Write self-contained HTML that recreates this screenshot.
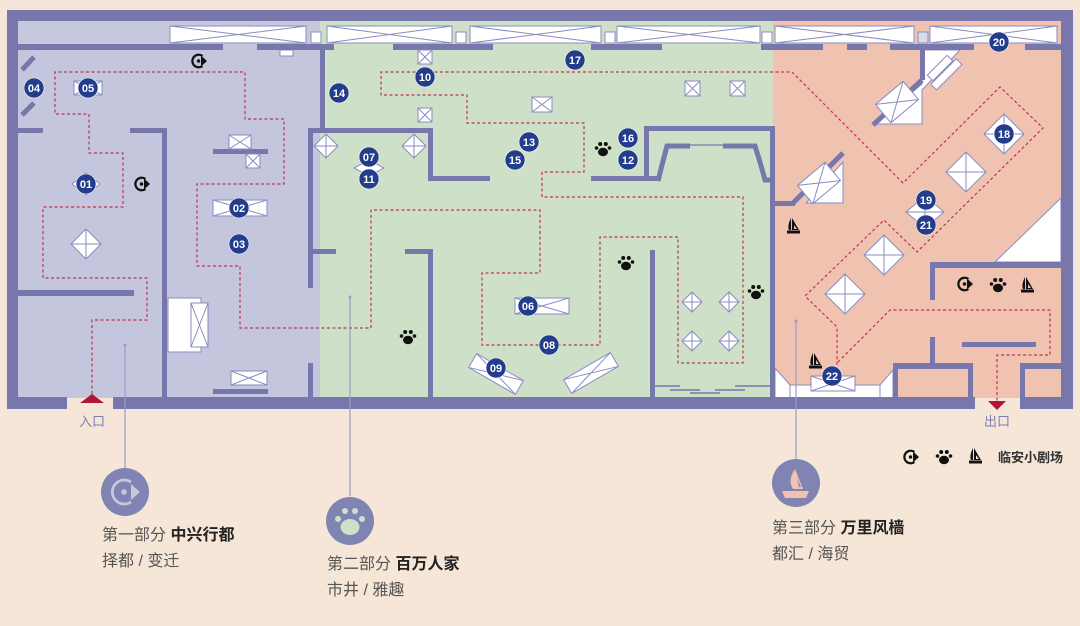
<!DOCTYPE html>
<html><head><meta charset="utf-8"><style>
html,body{margin:0;padding:0;background:#f6e6d7;}
svg{display:block}
text{font-family:"Liberation Sans","Noto Sans CJK SC",sans-serif;}
</style></head><body>
<svg width="1080" height="626" viewBox="0 0 1080 626" xmlns="http://www.w3.org/2000/svg">
<defs>
<g id="ico"><path d="M3.5,-5 A6.3,6.3 0 1 0 3.5,5" fill="none" stroke="#111" stroke-width="2.2"/><path d="M2,-5.5 L8,0 L2,5.5 Z" fill="#111"/><circle cx="-0.5" r="1.7" fill="#111"/></g>
<g id="paw" fill="#111"><ellipse cx="0" cy="3" rx="5" ry="4.2"/><circle cx="-6.5" cy="-1" r="1.8"/><circle cx="-2.8" cy="-5" r="2"/><circle cx="2.8" cy="-5" r="2"/><circle cx="6.5" cy="-1" r="1.8"/></g>
<g id="boat" fill="#111"><path d="M-1,-8 L-1,4 L6,4 Z M1,-1 L1,3 L4,3 Z" fill-rule="evenodd"/><path d="M-2,-8 C-5,-2 -5,2 -4,4 L-2,4 Z"/><rect x="-6" y="4.5" width="13" height="3"/></g>
</defs>

<rect x="18" y="21" width="302" height="377" fill="#c3c6dc"/>
<rect x="320" y="21" width="453" height="377" fill="#cfe0c8"/>
<rect x="773" y="21" width="288" height="377" fill="#f0c3b1"/>
<rect x="18" y="21" width="302" height="23" fill="#c6c9de"/>

<g stroke="#8a8cc0" stroke-width="1" fill="#fff">
<rect x="170" y="26" width="136" height="17"/><path d="M170,26 L306,43 M170,43 L306,26" fill="none"/>
<rect x="327" y="26" width="125" height="17"/><path d="M327,26 L452,43 M327,43 L452,26" fill="none"/>
<rect x="470" y="26" width="131" height="17"/><path d="M470,26 L601,43 M470,43 L601,26" fill="none"/>
<rect x="617" y="26" width="143" height="17"/><path d="M617,26 L760,43 M617,43 L760,26" fill="none"/>
<rect x="775" y="26" width="139" height="17"/><path d="M775,26 L914,43 M775,43 L914,26" fill="none"/>
<rect x="930" y="26" width="127" height="17"/><path d="M930,26 L1057,43 M930,43 L1057,26" fill="none"/>
<rect x="311" y="32" width="10" height="11"/><rect x="456" y="32" width="10" height="11"/>
<rect x="605" y="32" width="10" height="11"/><rect x="762" y="32" width="10" height="11"/>
<rect x="918" y="32" width="10" height="11" fill="#dcdbe8"/>
<rect x="280" y="50" width="13" height="6"/>
</g>

<g fill="#fff" stroke="#8a8cc0" stroke-width="1">
<rect x="168" y="298" width="33" height="54"/>
<polygon points="806,203 843,162 843,203"/>
<polygon points="875,124 922,84 922,50 960,50 922,90 922,124"/>
<polygon points="995,262 1061,198 1061,262"/>
<polygon points="775,368 790,385 790,398 775,398"/>
<polygon points="880,385 893,370 893,398 880,398"/>
<rect x="790" y="385" width="90" height="13"/>
</g>

<g fill="#7877ab">
<rect x="7" y="10" width="1066" height="11"/>
<rect x="7" y="10" width="11" height="399"/>
<rect x="1061" y="10" width="12" height="399"/>
<rect x="7" y="397" width="60" height="12"/>
<rect x="113" y="397" width="862" height="12"/>
<rect x="1020" y="397" width="53" height="12"/>
<rect x="18" y="44" width="205" height="6"/><rect x="257" y="44" width="77" height="6"/>
<rect x="393" y="44" width="100" height="6"/><rect x="591" y="44" width="71" height="6"/>
<rect x="761" y="44" width="62" height="6"/><rect x="847" y="44" width="20" height="6"/>
<rect x="890" y="44" width="84" height="6"/><rect x="1025" y="44" width="36" height="6"/>
<rect x="18" y="128" width="25" height="5"/><rect x="130" y="128" width="37" height="5"/>
<rect x="162" y="128" width="5" height="270"/>
<rect x="18" y="290" width="116" height="6"/>
<rect x="213" y="149" width="55" height="5"/><rect x="213" y="389" width="55" height="5"/>
<rect x="320" y="44" width="5" height="84"/>
<rect x="308" y="128" width="124" height="5"/>
<rect x="308" y="128" width="5" height="160"/><rect x="308" y="363" width="5" height="35"/>
<rect x="428" y="128" width="5" height="52"/><rect x="428" y="176" width="62" height="5"/>
<rect x="308" y="249" width="28" height="5"/><rect x="405" y="249" width="28" height="5"/>
<rect x="428" y="249" width="5" height="149"/>
<rect x="650" y="250" width="5" height="148"/>
<rect x="591" y="176" width="69" height="5"/>
<rect x="644" y="126" width="5" height="53"/>
<rect x="644" y="126" width="131" height="5"/>
<rect x="770" y="126" width="5" height="272"/>
<rect x="775" y="201" width="20" height="5"/>
<rect x="930" y="262" width="131" height="6"/>
<rect x="930" y="262" width="5" height="38"/>
<rect x="930" y="337" width="5" height="32"/>
<rect x="962" y="342" width="74" height="5"/>
<rect x="893" y="363" width="80" height="6"/><rect x="893" y="363" width="5" height="35"/><rect x="968" y="363" width="5" height="35"/>
<rect x="1020" y="363" width="41" height="6"/><rect x="1020" y="363" width="5" height="35"/>
<rect x="920" y="50" width="5" height="30"/>
</g>
<g stroke="#7877ab" fill="none">
<polyline points="658,181 662,165 667,146 690,146" stroke-width="5"/>
<line x1="690" y1="145" x2="723" y2="145" stroke-width="1.2"/>
<polyline points="723,146 755,146 760,162 765,180 772,180" stroke-width="5"/>
<line x1="793" y1="203" x2="843" y2="153" stroke-width="5"/>
<line x1="922" y1="80" x2="873" y2="125" stroke-width="5"/>
<line x1="22" y1="70" x2="34" y2="57" stroke-width="5"/>
<line x1="22" y1="115" x2="34" y2="103" stroke-width="5"/>
<g stroke-width="1.5"><line x1="655" y1="386" x2="680" y2="386"/><line x1="670" y1="390" x2="700" y2="390"/><line x1="690" y1="393" x2="720" y2="393"/><line x1="715" y1="390" x2="745" y2="390"/><line x1="735" y1="386" x2="770" y2="386"/></g>
</g>

<g fill="#fff" stroke="#8a8cc0" stroke-width="1">
<rect x="229" y="135" width="22" height="14"/><path d="M229,135 L251,149 M229,149 L251,135"/>
<rect x="246" y="154" width="14" height="14"/><path d="M246,154 L260,168 M246,168 L260,154"/>
<rect x="213" y="200" width="54" height="16"/><path d="M213,200 L267,216 M213,216 L267,200"/>
<rect x="231" y="371" width="36" height="14"/><path d="M231,371 L267,385 M231,385 L267,371"/>
<rect x="191" y="303" width="17" height="44"/><path d="M191,303 L208,347 M191,347 L208,303"/>
<rect x="74" y="81" width="28" height="14"/><path d="M74,81 L102,95 M74,95 L102,81"/>
<rect x="418" y="50" width="14" height="14"/><path d="M418,50 L432,64 M418,64 L432,50"/>
<rect x="418" y="108" width="14" height="14"/><path d="M418,108 L432,122 M418,122 L432,108"/>
<rect x="532" y="97" width="20" height="15"/><path d="M532,97 L552,112 M532,112 L552,97"/>
<rect x="685" y="81" width="15" height="15"/><path d="M685,81 L700,96 M685,96 L700,81"/>
<rect x="730" y="81" width="15" height="15"/><path d="M730,81 L745,96 M730,96 L745,81"/>
<rect x="515" y="298" width="54" height="16"/><path d="M515,298 L569,314 M515,314 L569,298"/>
<rect x="811" y="376" width="44" height="15"/><path d="M811,376 L855,391 M811,391 L855,376"/>
<g transform="translate(496,374) rotate(30)"><rect x="-27" y="-8" width="54" height="16"/><path d="M-27,-8 L27,8 M-27,8 L27,-8"/></g>
<g transform="translate(591,373) rotate(-30)"><rect x="-27" y="-8" width="54" height="16"/><path d="M-27,-8 L27,8 M-27,8 L27,-8"/></g>
<g transform="translate(819,183) rotate(-40)"><rect x="-18" y="-12" width="36" height="24"/><path d="M-18,-12 L18,12 M-18,12 L18,-12"/></g>
<g transform="translate(897,102) rotate(-40)"><rect x="-18" y="-12" width="36" height="24"/><path d="M-18,-12 L18,12 M-18,12 L18,-12"/></g>
<g transform="translate(940,68) rotate(-45)"><rect x="-14" y="-4" width="28" height="8"/><rect x="-18" y="5" width="36" height="8"/></g>
</g>
<g fill="#fff" stroke="#8a8cc0" stroke-width="1">
<g transform="translate(86,244)"><path d="M0,-15 L15,0 L0,15 L-15,0 Z M0,-15 V15 M-15,0 H15"/></g>
<g transform="translate(86,184)"><path d="M0,-11 L14,0 L0,11 L-14,0 Z"/></g>
<g transform="translate(326,146)"><path d="M0,-12 L12,0 L0,12 L-12,0 Z M0,-12 V12 M-12,0 H12"/></g>
<g transform="translate(414,146)"><path d="M0,-12 L12,0 L0,12 L-12,0 Z M0,-12 V12 M-12,0 H12"/></g>
<g transform="translate(369,168)"><path d="M0,-8 L15,0 L0,8 L-15,0 Z"/></g>
<g transform="translate(692,302)"><path d="M0,-10 L10,0 L0,10 L-10,0 Z M0,-10 V10 M-10,0 H10"/></g>
<g transform="translate(729,302)"><path d="M0,-10 L10,0 L0,10 L-10,0 Z M0,-10 V10 M-10,0 H10"/></g>
<g transform="translate(692,341)"><path d="M0,-10 L10,0 L0,10 L-10,0 Z M0,-10 V10 M-10,0 H10"/></g>
<g transform="translate(729,341)"><path d="M0,-10 L10,0 L0,10 L-10,0 Z M0,-10 V10 M-10,0 H10"/></g>
<g transform="translate(1004,134)"><path d="M0,-20 L20,0 L0,20 L-20,0 Z M0,-20 V20 M-20,0 H20"/></g>
<g transform="translate(966,172)"><path d="M0,-20 L20,0 L0,20 L-20,0 Z M0,-20 V20 M-20,0 H20"/></g>
<g transform="translate(925,212)"><path d="M0,-16 L19,0 L0,16 L-19,0 Z M0,-16 V16 M-19,0 H19"/></g>
<g transform="translate(884,255)"><path d="M0,-20 L20,0 L0,20 L-20,0 Z M0,-20 V20 M-20,0 H20"/></g>
<g transform="translate(845,294)"><path d="M0,-20 L20,0 L0,20 L-20,0 Z M0,-20 V20 M-20,0 H20"/></g>
</g>

<g fill="none" stroke="#c4304f" stroke-width="1.2" stroke-dasharray="3,2.5">
<polyline points="92,394 92,320 147,320 147,278 43,278 43,207 123,207 123,153 89,153 89,114 55,114 55,72 245,72 245,119 284,119 284,184 197,184 197,266 240,266 240,328 371,328 371,210 540,210 540,273 482,273 482,345 600,345 600,237 678,237 678,363 743,363 743,197 542,197 542,172 584,172 584,123 467,123 467,95 381,95 381,72 792,72 903,183 1000,87 1043,128 917,252 884,220 805,296 837,327 837,365"/>
<polyline points="838,362 890,310 1050,310 1050,355 997,355 997,402"/>
</g>
<polygon points="80,403 92,394 104,403" fill="#b0153b"/>
<polygon points="988,401 1006,401 997,410" fill="#b0153b"/>

<use href="#ico" x="199" y="61"/><use href="#ico" x="142" y="184"/><use href="#ico" x="965" y="284"/>
<use href="#paw" x="603" y="149"/><use href="#paw" x="626" y="263"/><use href="#paw" x="756" y="292"/><use href="#paw" x="408" y="337"/><use href="#paw" x="998" y="285"/>
<use href="#boat" x="793" y="226"/><use href="#boat" x="815" y="361"/><use href="#boat" x="1027" y="285"/>

<g fill="#233c8c" stroke="#fff" stroke-width="0.6">
<circle cx="86" cy="184" r="10"/><circle cx="239" cy="208" r="10"/><circle cx="239" cy="244" r="10"/>
<circle cx="34" cy="88" r="10"/><circle cx="88" cy="88" r="10"/><circle cx="528" cy="306" r="10"/>
<circle cx="369" cy="157" r="10"/><circle cx="549" cy="345" r="10"/><circle cx="496" cy="368" r="10"/>
<circle cx="425" cy="77" r="10"/><circle cx="369" cy="179" r="10"/><circle cx="628" cy="160" r="10"/>
<circle cx="529" cy="142" r="10"/><circle cx="339" cy="93" r="10"/><circle cx="515" cy="160" r="10"/>
<circle cx="628" cy="138" r="10"/><circle cx="575" cy="60" r="10"/><circle cx="1004" cy="134" r="10"/>
<circle cx="926" cy="200" r="10"/><circle cx="999" cy="42" r="10"/><circle cx="926" cy="225" r="10"/>
<circle cx="832" cy="376" r="10"/>
</g>
<g fill="#fff" font-size="11" font-weight="bold" text-anchor="middle">
<text x="86" y="188">01</text><text x="239" y="212">02</text><text x="239" y="248">03</text>
<text x="34" y="92">04</text><text x="88" y="92">05</text><text x="528" y="310">06</text>
<text x="369" y="161">07</text><text x="549" y="349">08</text><text x="496" y="372">09</text>
<text x="425" y="81">10</text><text x="369" y="183">11</text><text x="628" y="164">12</text>
<text x="529" y="146">13</text><text x="339" y="97">14</text><text x="515" y="164">15</text>
<text x="628" y="142">16</text><text x="575" y="64">17</text><text x="1004" y="138">18</text>
<text x="926" y="204">19</text><text x="999" y="46">20</text><text x="926" y="229">21</text>
<text x="832" y="380">22</text>
</g>

<text x="92" y="426" font-size="13" fill="#7d7fb0" text-anchor="middle">入口</text>
<text x="997" y="426" font-size="13" fill="#7d7fb0" text-anchor="middle">出口</text>

<g stroke="#9a9cc4" stroke-width="1.2">
<line x1="125" y1="345" x2="125" y2="468"/>
<line x1="350" y1="297" x2="350" y2="496"/>
<line x1="796" y1="321" x2="796" y2="459"/>
</g>
<g fill="#9a9cc4"><circle cx="125" cy="345" r="1.5"/><circle cx="350" cy="297" r="1.5"/><circle cx="796" cy="321" r="1.5"/></g>

<circle cx="125" cy="492" r="24" fill="#8084b3"/>
<path d="M131,482 A12,12 0 1 0 131,502" fill="none" stroke="#c7c8df" stroke-width="2.8"/>
<path d="M131,484 L140,492 L131,500 Z" fill="#c7c8df"/>
<circle cx="124" cy="492" r="2.8" fill="#c7c8df"/>
<circle cx="350" cy="521" r="24" fill="#8084b3"/>
<g fill="#cfe0c8"><ellipse cx="350" cy="527" rx="9.5" ry="8"/><circle cx="338" cy="519" r="3"/><circle cx="345" cy="511" r="3"/><circle cx="355" cy="511" r="3"/><circle cx="362" cy="519" r="3"/></g>
<circle cx="796" cy="483" r="24" fill="#8084b3"/>
<g fill="#f0c3b1"><path d="M795,469 C789,478 790,484 793,489 L803,489 Z M797,478 L799,487 L801,487 Z" fill-rule="evenodd"/><path d="M782,491 L809,491 L806,498 L785,498 Z"/></g>

<g font-size="16" fill="#555">
<text x="102" y="540">第一部分 <tspan font-weight="bold" fill="#222">中兴行都</tspan></text>
<text x="102" y="566">择都 / 变迁</text>
<text x="327" y="569">第二部分 <tspan font-weight="bold" fill="#222">百万人家</tspan></text>
<text x="327" y="595">市井 / 雅趣</text>
<text x="772" y="533">第三部分 <tspan font-weight="bold" fill="#222">万里风樯</tspan></text>
<text x="772" y="559">都汇 / 海贸</text>
</g>
<use href="#ico" x="911" y="457"/><use href="#paw" x="944" y="457"/><use href="#boat" x="975" y="456"/>
<text x="998" y="462" font-size="13" font-weight="bold" fill="#333">临安小剧场</text>
</svg>
</body></html>
